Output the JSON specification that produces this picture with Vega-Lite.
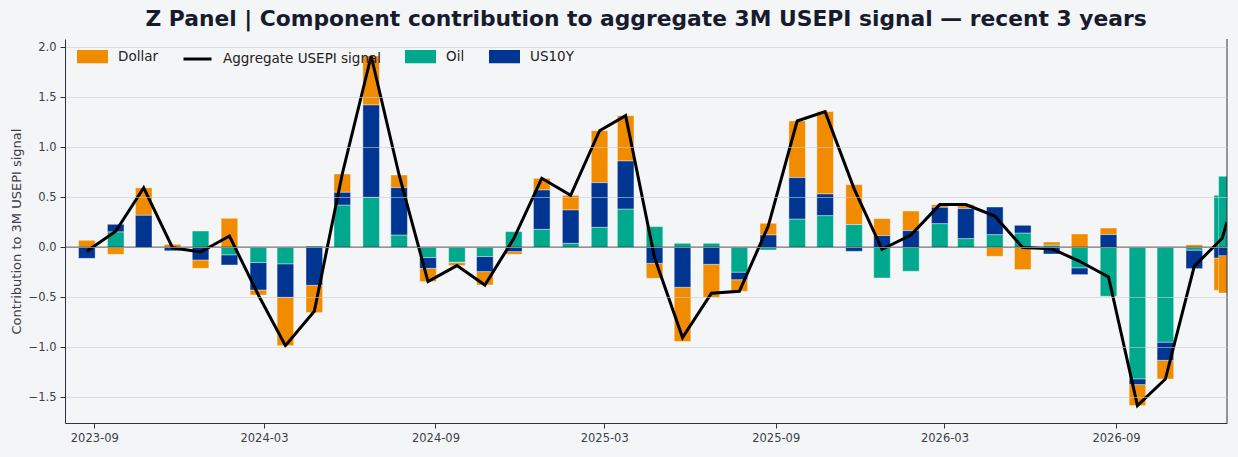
{
  "$schema": "https://vega.github.io/schema/vega-lite/v6.json",
  "width": 1162,
  "height": 384,
  "autosize": {"type": "none"},
  "padding": {"left": 65, "top": 39, "right": 11, "bottom": 34},
  "background": "#f4f5f7",
  "config": {
    "view": {"stroke": null, "fill": "#f4f5f7"},
    "font": "DejaVu Sans",
    "axis": {"labelFont": "DejaVu Sans", "titleFont": "DejaVu Sans"},
    "legend": {"labelFont": "DejaVu Sans"}
  },
  "title": {
    "text": "Z Panel | Component contribution to aggregate 3M USEPI signal — recent 3 years",
    "anchor": "middle",
    "font": "DejaVu Sans",
    "fontSize": 21.8,
    "fontWeight": "bold",
    "color": "#161b2e",
    "offset": 8
  },
  "datasets": {
    "comp": [
      {"date": "2023-08-24", "component": "Dollar", "value": 0.07}, {"date": "2023-08-24", "component": "Oil", "value": 0.0}, {"date": "2023-08-24", "component": "US10Y", "value": -0.11},
      {"date": "2023-09-24", "component": "Dollar", "value": -0.07}, {"date": "2023-09-24", "component": "Oil", "value": 0.155}, {"date": "2023-09-24", "component": "US10Y", "value": 0.075},
      {"date": "2023-10-24", "component": "Dollar", "value": 0.275}, {"date": "2023-10-24", "component": "Oil", "value": 0.0}, {"date": "2023-10-24", "component": "US10Y", "value": 0.32},
      {"date": "2023-11-24", "component": "Dollar", "value": 0.03}, {"date": "2023-11-24", "component": "Oil", "value": 0.0}, {"date": "2023-11-24", "component": "US10Y", "value": -0.035},
      {"date": "2023-12-24", "component": "Dollar", "value": -0.083}, {"date": "2023-12-24", "component": "Oil", "value": 0.163}, {"date": "2023-12-24", "component": "US10Y", "value": -0.127},
      {"date": "2024-01-24", "component": "Dollar", "value": 0.29}, {"date": "2024-01-24", "component": "Oil", "value": -0.077}, {"date": "2024-01-24", "component": "US10Y", "value": -0.1},
      {"date": "2024-02-24", "component": "Dollar", "value": -0.05}, {"date": "2024-02-24", "component": "Oil", "value": -0.153}, {"date": "2024-02-24", "component": "US10Y", "value": -0.274},
      {"date": "2024-03-24", "component": "Dollar", "value": -0.484}, {"date": "2024-03-24", "component": "Oil", "value": -0.167}, {"date": "2024-03-24", "component": "US10Y", "value": -0.333},
      {"date": "2024-04-24", "component": "Dollar", "value": -0.273}, {"date": "2024-04-24", "component": "Oil", "value": 0.013}, {"date": "2024-04-24", "component": "US10Y", "value": -0.38},
      {"date": "2024-05-24", "component": "Dollar", "value": 0.183}, {"date": "2024-05-24", "component": "Oil", "value": 0.423}, {"date": "2024-05-24", "component": "US10Y", "value": 0.127},
      {"date": "2024-06-24", "component": "Dollar", "value": 0.49}, {"date": "2024-06-24", "component": "Oil", "value": 0.5}, {"date": "2024-06-24", "component": "US10Y", "value": 0.923},
      {"date": "2024-07-24", "component": "Dollar", "value": 0.126}, {"date": "2024-07-24", "component": "Oil", "value": 0.123}, {"date": "2024-07-24", "component": "US10Y", "value": 0.474},
      {"date": "2024-08-24", "component": "Dollar", "value": -0.133}, {"date": "2024-08-24", "component": "Oil", "value": -0.103}, {"date": "2024-08-24", "component": "US10Y", "value": -0.107},
      {"date": "2024-09-24", "component": "Dollar", "value": -0.03}, {"date": "2024-09-24", "component": "Oil", "value": -0.15}, {"date": "2024-09-24", "component": "US10Y", "value": -0.003},
      {"date": "2024-10-24", "component": "Dollar", "value": -0.134}, {"date": "2024-10-24", "component": "Oil", "value": -0.093}, {"date": "2024-10-24", "component": "US10Y", "value": -0.15},
      {"date": "2024-11-24", "component": "Dollar", "value": -0.027}, {"date": "2024-11-24", "component": "Oil", "value": 0.157}, {"date": "2024-11-24", "component": "US10Y", "value": -0.043},
      {"date": "2024-12-24", "component": "Dollar", "value": 0.117}, {"date": "2024-12-24", "component": "Oil", "value": 0.18}, {"date": "2024-12-24", "component": "US10Y", "value": 0.393},
      {"date": "2025-01-24", "component": "Dollar", "value": 0.147}, {"date": "2025-01-24", "component": "Oil", "value": 0.04}, {"date": "2025-01-24", "component": "US10Y", "value": 0.333},
      {"date": "2025-02-24", "component": "Dollar", "value": 0.52}, {"date": "2025-02-24", "component": "Oil", "value": 0.2}, {"date": "2025-02-24", "component": "US10Y", "value": 0.446},
      {"date": "2025-03-24", "component": "Dollar", "value": 0.453}, {"date": "2025-03-24", "component": "Oil", "value": 0.383}, {"date": "2025-03-24", "component": "US10Y", "value": 0.48},
      {"date": "2025-04-24", "component": "Dollar", "value": -0.15}, {"date": "2025-04-24", "component": "Oil", "value": 0.207}, {"date": "2025-04-24", "component": "US10Y", "value": -0.16},
      {"date": "2025-05-24", "component": "Dollar", "value": -0.543}, {"date": "2025-05-24", "component": "Oil", "value": 0.04}, {"date": "2025-05-24", "component": "US10Y", "value": -0.4},
      {"date": "2025-06-24", "component": "Dollar", "value": -0.33}, {"date": "2025-06-24", "component": "Oil", "value": 0.04}, {"date": "2025-06-24", "component": "US10Y", "value": -0.17},
      {"date": "2025-07-24", "component": "Dollar", "value": -0.116}, {"date": "2025-07-24", "component": "Oil", "value": -0.25}, {"date": "2025-07-24", "component": "US10Y", "value": -0.074},
      {"date": "2025-08-24", "component": "Dollar", "value": 0.117}, {"date": "2025-08-24", "component": "Oil", "value": -0.027}, {"date": "2025-08-24", "component": "US10Y", "value": 0.123},
      {"date": "2025-09-24", "component": "Dollar", "value": 0.566}, {"date": "2025-09-24", "component": "Oil", "value": 0.283}, {"date": "2025-09-24", "component": "US10Y", "value": 0.414},
      {"date": "2025-10-24", "component": "Dollar", "value": 0.824}, {"date": "2025-10-24", "component": "Oil", "value": 0.317}, {"date": "2025-10-24", "component": "US10Y", "value": 0.216},
      {"date": "2025-11-24", "component": "Dollar", "value": 0.4}, {"date": "2025-11-24", "component": "Oil", "value": 0.227}, {"date": "2025-11-24", "component": "US10Y", "value": -0.04},
      {"date": "2025-12-24", "component": "Dollar", "value": 0.17}, {"date": "2025-12-24", "component": "Oil", "value": -0.307}, {"date": "2025-12-24", "component": "US10Y", "value": 0.117},
      {"date": "2026-01-24", "component": "Dollar", "value": 0.196}, {"date": "2026-01-24", "component": "Oil", "value": -0.24}, {"date": "2026-01-24", "component": "US10Y", "value": 0.167},
      {"date": "2026-02-24", "component": "Dollar", "value": 0.027}, {"date": "2026-02-24", "component": "Oil", "value": 0.237}, {"date": "2026-02-24", "component": "US10Y", "value": 0.163},
      {"date": "2026-03-24", "component": "Dollar", "value": 0.04}, {"date": "2026-03-24", "component": "Oil", "value": 0.087}, {"date": "2026-03-24", "component": "US10Y", "value": 0.3},
      {"date": "2026-04-24", "component": "Dollar", "value": -0.09}, {"date": "2026-04-24", "component": "Oil", "value": 0.127}, {"date": "2026-04-24", "component": "US10Y", "value": 0.276},
      {"date": "2026-05-24", "component": "Dollar", "value": -0.223}, {"date": "2026-05-24", "component": "Oil", "value": 0.143}, {"date": "2026-05-24", "component": "US10Y", "value": 0.077},
      {"date": "2026-06-24", "component": "Dollar", "value": 0.033}, {"date": "2026-06-24", "component": "Oil", "value": 0.02}, {"date": "2026-06-24", "component": "US10Y", "value": -0.067},
      {"date": "2026-07-24", "component": "Dollar", "value": 0.133}, {"date": "2026-07-24", "component": "Oil", "value": -0.207}, {"date": "2026-07-24", "component": "US10Y", "value": -0.066},
      {"date": "2026-08-24", "component": "Dollar", "value": 0.066}, {"date": "2026-08-24", "component": "Oil", "value": -0.49}, {"date": "2026-08-24", "component": "US10Y", "value": 0.127},
      {"date": "2026-09-24", "component": "Dollar", "value": -0.21}, {"date": "2026-09-24", "component": "Oil", "value": -1.317}, {"date": "2026-09-24", "component": "US10Y", "value": -0.056},
      {"date": "2026-10-24", "component": "Dollar", "value": -0.187}, {"date": "2026-10-24", "component": "Oil", "value": -0.95}, {"date": "2026-10-24", "component": "US10Y", "value": -0.18},
      {"date": "2026-11-24", "component": "Dollar", "value": 0.025}, {"date": "2026-11-24", "component": "Oil", "value": -0.03}, {"date": "2026-11-24", "component": "US10Y", "value": -0.183},
      {"date": "2026-12-24", "component": "Dollar", "value": -0.323}, {"date": "2026-12-24", "component": "Oil", "value": 0.52}, {"date": "2026-12-24", "component": "US10Y", "value": -0.107},
      {"date": "2026-12-29", "component": "Dollar", "value": -0.374}, {"date": "2026-12-29", "component": "Oil", "value": 0.71}, {"date": "2026-12-29", "component": "US10Y", "value": -0.083}
    ],
    "agg": [
      {"date": "2023-08-24", "value": -0.04}, {"date": "2023-09-24", "value": 0.16}, {"date": "2023-10-24", "value": 0.595},
      {"date": "2023-11-24", "value": -0.005}, {"date": "2023-12-24", "value": -0.047}, {"date": "2024-01-24", "value": 0.113},
      {"date": "2024-02-24", "value": -0.477}, {"date": "2024-03-24", "value": -0.984}, {"date": "2024-04-24", "value": -0.64},
      {"date": "2024-05-24", "value": 0.733}, {"date": "2024-06-24", "value": 1.913}, {"date": "2024-07-24", "value": 0.723},
      {"date": "2024-08-24", "value": -0.343}, {"date": "2024-09-24", "value": -0.183}, {"date": "2024-10-24", "value": -0.377},
      {"date": "2024-11-24", "value": 0.087}, {"date": "2024-12-24", "value": 0.69}, {"date": "2025-01-24", "value": 0.52},
      {"date": "2025-02-24", "value": 1.166}, {"date": "2025-03-24", "value": 1.316}, {"date": "2025-04-24", "value": -0.103},
      {"date": "2025-05-24", "value": -0.903}, {"date": "2025-06-24", "value": -0.46}, {"date": "2025-07-24", "value": -0.44},
      {"date": "2025-08-24", "value": 0.213}, {"date": "2025-09-24", "value": 1.263}, {"date": "2025-10-24", "value": 1.357},
      {"date": "2025-11-24", "value": 0.587}, {"date": "2025-12-24", "value": -0.02}, {"date": "2026-01-24", "value": 0.123},
      {"date": "2026-02-24", "value": 0.427}, {"date": "2026-03-24", "value": 0.427}, {"date": "2026-04-24", "value": 0.313},
      {"date": "2026-05-24", "value": -0.003}, {"date": "2026-06-24", "value": -0.014}, {"date": "2026-07-24", "value": -0.14},
      {"date": "2026-08-24", "value": -0.297}, {"date": "2026-09-24", "value": -1.583}, {"date": "2026-10-24", "value": -1.317},
      {"date": "2026-11-24", "value": -0.188}, {"date": "2026-12-24", "value": 0.09}, {"date": "2026-12-29", "value": 0.253}
    ]
  },
  "layer": [
    {
      "data": {"name": "comp"},
      "transform": [{"calculate": "indexof(['Oil','US10Y','Dollar'], datum.component)", "as": "stack_rank"}],
      "mark": {"type": "bar", "width": 16.6, "clip": true, "stroke": "#ffffff", "strokeWidth": 0.5, "strokeOpacity": 0.8},
      "encoding": {
        "x": {
          "field": "date", "type": "temporal",
          "scale": {"type": "utc", "padding": 0, "nice": false, "domain": [{"year": 2023, "month": 7, "date": 31, "hours": 13, "minutes": 40, "utc": true}, {"year": 2026, "month": 12, "date": 29, "hours": 2, "utc": true}]},
          "axis": {
            "values": [
              {"year": 2023, "month": 9, "date": 1, "utc": true},
              {"year": 2024, "month": 3, "date": 1, "utc": true},
              {"year": 2024, "month": 9, "date": 1, "utc": true},
              {"year": 2025, "month": 3, "date": 1, "utc": true},
              {"year": 2025, "month": 9, "date": 1, "utc": true},
              {"year": 2026, "month": 3, "date": 1, "utc": true},
              {"year": 2026, "month": 9, "date": 1, "utc": true}
            ],
            "labelExpr": "utcFormat(datum.value, '%Y-%m')", "title": null, "grid": false,
            "tickSize": 5, "tickColor": "#2d3340", "domainColor": "#2d3340",
            "labelFontSize": 11.5, "labelColor": "#3a3f4b", "labelPadding": 4, "labelFlush": false
          }
        },
        "y": {
          "field": "value", "type": "quantitative", "stack": "zero",
          "scale": {"domain": [-1.757, 2.083], "nice": false, "zero": false},
          "axis": {
            "values": [-1.5, -1, -0.5, 0, 0.5, 1, 1.5, 2], "format": ".1f",
            "title": "Contribution to 3M USEPI signal", "titleFontSize": 13, "titleFontWeight": "normal", "titleColor": "#3a3f4b", "titlePadding": 5,
            "grid": true, "gridColor": "#c9cdd3", "gridOpacity": 0.6, "zindex": 1,
            "tickSize": 5, "tickColor": "#2d3340", "domainColor": "#2d3340",
            "labelFontSize": 11.5, "labelColor": "#3a3f4b", "labelPadding": 4
          }
        },
        "color": {
          "field": "component", "type": "nominal",
          "scale": {"domain": ["Dollar", "Aggregate USEPI signal", "Oil", "US10Y"], "range": ["#f18b00", "#000000", "#00a88e", "#003591"]},
          "legend": {
            "orient": "none", "legendX": 12, "legendY": 2, "direction": "horizontal", "columns": 4,
            "title": null, "symbolSize": 784, "labelFontSize": 13.5, "labelColor": "#222222",
            "labelOffset": 10, "columnPadding": 19, "padding": 0,
            "values": ["Dollar", "Aggregate USEPI signal", "Oil", "US10Y"],
            "encode": {
              "symbols": {
                "update": {
                  "shape": {"signal": "datum.value === 'Aggregate USEPI signal' ? 'M-1,0H1' : 'M-1,-0.37H1V0.37H-1Z'"},
                  "fill": {"signal": "datum.value === 'Aggregate USEPI signal' ? 'transparent' : scale('color', datum.value)"},
                  "stroke": {"signal": "datum.value === 'Aggregate USEPI signal' ? '#000000' : 'transparent'"},
                  "strokeWidth": {"value": 3},
                  "opacity": {"value": 1}
                }
              }
            }
          }
        },
        "order": {"field": "stack_rank", "type": "quantitative"}
      }
    },
    {
      "data": {"name": "agg"},
      "mark": {"type": "line", "strokeWidth": 3, "clip": true},
      "encoding": {
        "x": {"field": "date", "type": "temporal"},
        "y": {"field": "value", "type": "quantitative"},
        "color": {
          "datum": "Aggregate USEPI signal",
          "legend": {
            "orient": "none", "legendX": 12, "legendY": 2, "direction": "horizontal", "columns": 4,
            "title": null, "symbolSize": 784, "labelFontSize": 13.5, "labelColor": "#222222",
            "labelOffset": 10, "columnPadding": 19, "padding": 0,
            "values": ["Dollar", "Aggregate USEPI signal", "Oil", "US10Y"],
            "encode": {
              "symbols": {
                "update": {
                  "shape": {"signal": "datum.value === 'Aggregate USEPI signal' ? 'M-1,0H1' : 'M-1,-0.37H1V0.37H-1Z'"},
                  "fill": {"signal": "datum.value === 'Aggregate USEPI signal' ? 'transparent' : scale('color', datum.value)"},
                  "stroke": {"signal": "datum.value === 'Aggregate USEPI signal' ? '#000000' : 'transparent'"},
                  "strokeWidth": {"value": 3},
                  "opacity": {"value": 1}
                }
              }
            }
          }
        }
      }
    },
    {
      "data": {"values": [{}]},
      "mark": {"type": "rule", "color": "#000000", "strokeWidth": 1.1},
      "encoding": {"y": {"datum": 0}}
    },
    {
      "data": {"values": [{}]},
      "mark": {"type": "rule", "color": "#2d3340", "strokeWidth": 1},
      "encoding": {"x": {"datum": {"year": 2026, "month": 12, "date": 29, "hours": 2, "utc": true}}}
    }
  ]
}
